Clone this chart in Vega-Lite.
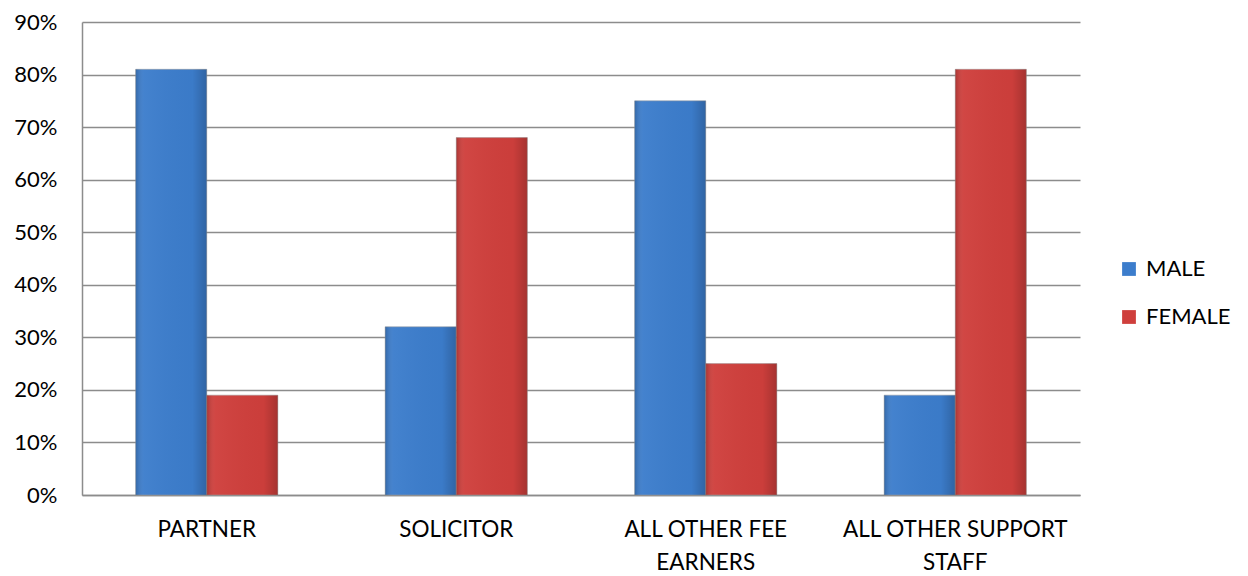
{
  "$schema": "https://vega.github.io/schema/vega-lite/v6.json",
  "autosize": {"type": "none"},
  "width": 998,
  "height": 473,
  "padding": {"left": 82, "top": 22, "right": 168, "bottom": 81},
  "background": "white",
  "config": {
    "font": "Lato",
    "view": {"stroke": null}
  },
  "data": {
    "values": [
      {"role": "PARTNER", "gender": "MALE", "share": 0.81},
      {"role": "PARTNER", "gender": "FEMALE", "share": 0.19},
      {"role": "SOLICITOR", "gender": "MALE", "share": 0.32},
      {"role": "SOLICITOR", "gender": "FEMALE", "share": 0.68},
      {"role": "ALL OTHER FEE EARNERS", "gender": "MALE", "share": 0.75},
      {"role": "ALL OTHER FEE EARNERS", "gender": "FEMALE", "share": 0.25},
      {"role": "ALL OTHER SUPPORT STAFF", "gender": "MALE", "share": 0.19},
      {"role": "ALL OTHER SUPPORT STAFF", "gender": "FEMALE", "share": 0.81}
    ]
  },
  "encoding": {
    "x": {
      "field": "role",
      "type": "nominal",
      "sort": null,
      "scale": {"paddingInner": 0.43, "paddingOuter": 0.215},
      "axis": {
        "title": null,
        "labelAngle": 0,
        "labelFontSize": 22.5,
        "labelColor": "#000000",
        "labelPadding": 23,
        "labelLineHeight": 33,
        "labelLimit": 300,
        "ticks": false,
        "domainColor": "#8c8c8c",
        "domainWidth": 1.5,
        "labelExpr": "datum.label == 'ALL OTHER FEE EARNERS' ? ['ALL OTHER FEE', 'EARNERS'] : datum.label == 'ALL OTHER SUPPORT STAFF' ? ['ALL OTHER SUPPORT', 'STAFF'] : datum.label"
      }
    },
    "xOffset": {"field": "gender", "type": "nominal", "sort": ["MALE", "FEMALE"], "scale": {"paddingInner": 0, "paddingOuter": 0}},
    "y": {
      "field": "share",
      "type": "quantitative",
      "scale": {"domain": [0, 0.9], "nice": false},
      "axis": {
        "title": null,
        "format": ".0%",
        "values": [0, 0.1, 0.2, 0.3, 0.4, 0.5, 0.6, 0.7, 0.8, 0.9],
        "labelFontSize": 22,
        "labelColor": "#000000",
        "labelPadding": 25,
        "ticks": false,
        "grid": true,
        "gridColor": "#8c8c8c",
        "gridWidth": 1.5,
        "domainColor": "#8c8c8c",
        "domainWidth": 1.5
      }
    }
  },
  "layer": [
    {
      "mark": {"type": "bar", "strokeWidth": 1, "stroke": "#9a9a9a", "strokeOpacity": 0.5},
      "encoding": {
        "color": {
          "field": "gender",
          "type": "nominal",
          "sort": ["MALE", "FEMALE"],
          "scale": {"domain": ["MALE", "FEMALE"], "range": ["#3c7dcc", "#cf3f3c"]},
          "legend": {
            "title": null,
            "orient": "none",
            "legendX": 1036,
            "legendY": 236,
            "symbolType": "square",
            "symbolSize": 190,
            "labelFontSize": 22,
            "labelColor": "#000000",
            "rowPadding": 26,
            "labelOffset": 6,
            "symbolStrokeWidth": 0
          }
        }
      }
    },
    {
      "mark": {
        "type": "bar",
        "fill": {
          "gradient": "linear",
          "x1": 0, "y1": 0, "x2": 1, "y2": 0,
          "stops": [
            {"offset": 0, "color": "rgba(0,0,0,0.18)"},
            {"offset": 0.12, "color": "rgba(255,255,255,0.04)"},
            {"offset": 0.8, "color": "rgba(0,0,0,0.02)"},
            {"offset": 1, "color": "rgba(0,0,0,0.2)"}
          ]
        }
      }
    }
  ]
}
